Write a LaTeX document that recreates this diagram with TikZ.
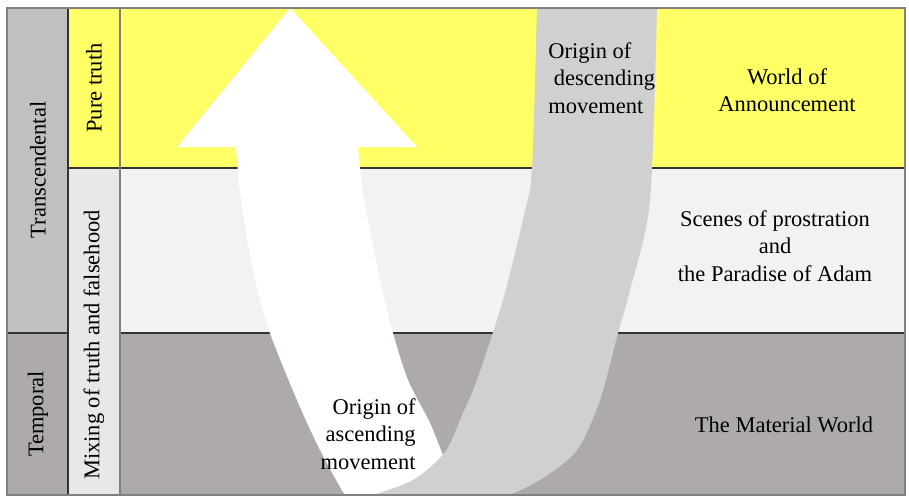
\documentclass[tikz,border=0pt]{standalone}
\usepackage{fontspec}
\setmainfont{LiberationSerif}[Extension=.ttf, UprightFont=*-Regular, BoldFont=*-Bold]
\newfontfamily\timesfont{LiberationSerif}[Extension=.ttf, UprightFont=*-Regular]

\definecolor{truthyellow}{HTML}{FFFF66}
\definecolor{mixgray}{HTML}{F2F2F2}
\definecolor{mixcol}{HTML}{E8E8E8}
\definecolor{earthgray}{HTML}{AEAAAA}
\definecolor{highgray}{HTML}{C0C0C0}
\definecolor{bandgray}{HTML}{D0D0D0}
\definecolor{framegray}{HTML}{808080}

\begin{document}
\begin{tikzpicture}[x=0.02cm,y=-0.02cm,
    rule/.style={line width=0.7pt, black!80},
    worldlabel/.style={font=\timesfont\fontsize{12.8}{15.6}\selectfont, inner sep=0pt, align=center},
    sidelabel/.style={worldlabel, rotate=90}]
  \useasboundingbox (0,0) rectangle (909,498);

  % table corners
  \coordinate (tl) at (7,8);
  \coordinate (br) at (905,495);

  % bands
  \fill[highgray] (tl) rectangle (68,333);
  \fill[earthgray] (7,333) rectangle (68,495);
  \fill[truthyellow] (68,8) rectangle (905,168);
  \fill[mixcol] (68,168) rectangle (120,495);
  \fill[mixgray] (120,168) rectangle (905,333);
  \fill[earthgray] (120,333) rectangle (br);
  \draw[rule] (68,168) -- (905,168);
  \draw[rule] (7,333) -- (68,333) (120,333) -- (905,333);
  \draw[rule] (68,8) -- (68,495);
  \draw[rule, framegray] (120,8) -- (120,495);

  % the two movements
  \begin{scope}
    \clip (120,8) rectangle (905,495);
    \fill[white] (290,8) -- (417,147) -- (358,147)
      -- plot[smooth] coordinates {(358,147) (364,200) (380,280) (393,333) (408,380) (430,423) (443,455) (462,495) (470,510)}
      -- plot[smooth] coordinates {(360,510) (345,495) (320,450) (297,400) (270,333) (255,280) (241,200) (236,147)}
      -- (177,147) -- cycle;
    \fill[bandgray] plot[smooth] coordinates {(537,6) (532,168) (524,215) (503,300) (477,380) (463,413) (445,452) (413,480) (373,495) (345,504)}
      -- plot[smooth] coordinates {(480,508) (510,495) (543,478) (577,450) (600,400) (618,333) (630,290) (650,200) (657,6)}
      -- cycle;
  \end{scope}

  \draw[line width=0.7pt, framegray] (tl) rectangle (br);

  % labels
  \node[sidelabel] (transc) at (38,170) {Transcendental};
  \node[sidelabel] (tempo) at (38,414) {Temporal};
  \node[sidelabel] (pure) at (94,88) {Pure truth};
  \node[sidelabel] (mixing) at (94,345) {Mixing of truth and falsehood};

  \node[worldlabel] (announce) at (787,90) {World of\\Announcement};
  \node[worldlabel] (prostr) at (775,246) {Scenes of prostration\\and\\the Paradise of Adam};
  \node[worldlabel] (material) at (784,425) {The Material World};

  \node[worldlabel, align=left, anchor=west] (descend) at (548,78) {Origin of\\\hspace*{0.25em}descending\\movement};
  \node[worldlabel, align=right, anchor=east] (ascend) at (416,434) {Origin of\\ascending\\movement};
\end{tikzpicture}
\end{document}
